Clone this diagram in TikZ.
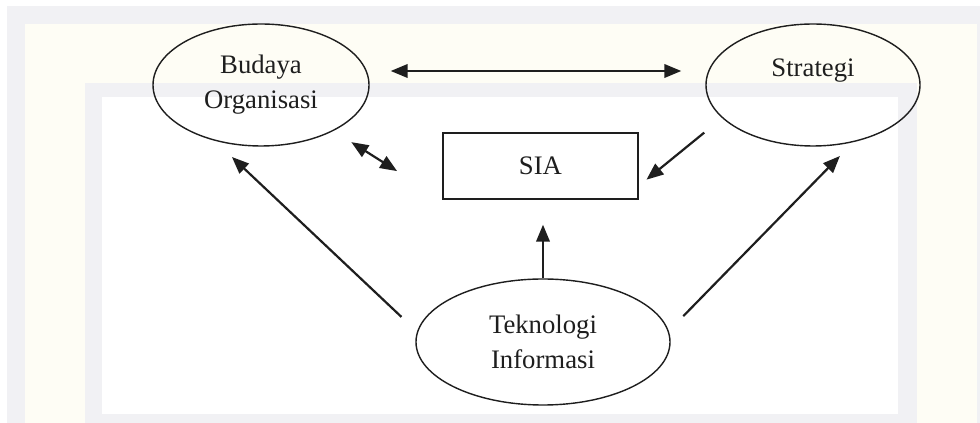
\documentclass[tikz,border=0pt]{standalone}
\usepackage{fontspec}
\setmainfont{Liberation Serif}
\usetikzlibrary{shapes.geometric,arrows.meta}
\definecolor{bordgris}{RGB}{241,241,244}
\definecolor{bordcreme}{RGB}{254,253,245}
\definecolor{trait}{RGB}{30,30,30}

\begin{document}
\begin{tikzpicture}[
        elips/.style={draw=trait, line width=0.8pt, ellipse, inner sep=0pt, align=center, text=trait, font=\fontsize{15.2}{19.9}\selectfont},
        kotak/.style={draw=trait, line width=0.8pt, rectangle, inner sep=0pt, minimum width=3.9cm, minimum height=1.32cm, text=trait, font=\fontsize{15.2}{19.9}\selectfont},
        panah/.style={-{Triangle[length=0.34cm,width=0.27cm]}, line width=1.25pt, draw=trait},
        dua/.style={{Triangle[length=0.34cm,width=0.27cm]}-{Triangle[length=0.34cm,width=0.27cm]}, line width=1.25pt, draw=trait}
    ]
        \useasboundingbox (0,0) rectangle (19.6,8.46);
        
        % fond (cadre du filigrane)
        \fill[bordgris] (0.14,0) rectangle (19.6,8.34);
        \fill[bordcreme] (0.5,0) rectangle (19.54,7.98);
        \fill[bordgris] (1.7,0) rectangle (18.34,6.8);
        \fill[white] (2.04,0.18) rectangle (17.96,6.52);
        
        % noeuds
        \node[elips, minimum width=4.32cm, minimum height=2.44cm] (bo) at (5.22,6.76) {Budaya\\Organisasi};
        \node[elips, minimum width=4.28cm, minimum height=2.44cm] (st) at (16.26,6.76) {Strategi\\~};
        \node[kotak] (sia) at (10.81,5.14) {SIA};
        \node[elips, minimum width=5.08cm, minimum height=2.52cm] (ti) at (10.86,1.62) {Teknologi\\Informasi};
        
        % fleches
        \draw[dua, shorten <=0.42cm, shorten >=0.48cm] ([yshift=0.28cm]bo.east) -- ([yshift=0.28cm]st.west);
        \draw[dua, shorten <=0.42cm, shorten >=1.07cm] (bo) -- (sia.south west);
        \draw[panah, shorten <=0.46cm, shorten >=0.2cm] (st.200) -- ([yshift=-0.4cm]sia.east);
        \draw[panah, shorten >=0.5cm] (ti.north) -- (ti.north |- sia.south);
        \draw[panah, shorten <=0.38cm, shorten >=0.3cm] ([yshift=0.24cm]ti.west) -- ([xshift=-0.8cm]bo.south);
        \draw[panah, shorten <=0.36cm, shorten >=0.26cm] ([yshift=0.26cm]ti.east) -- ([xshift=0.72cm]st.south);
    \end{tikzpicture}
\end{document}
